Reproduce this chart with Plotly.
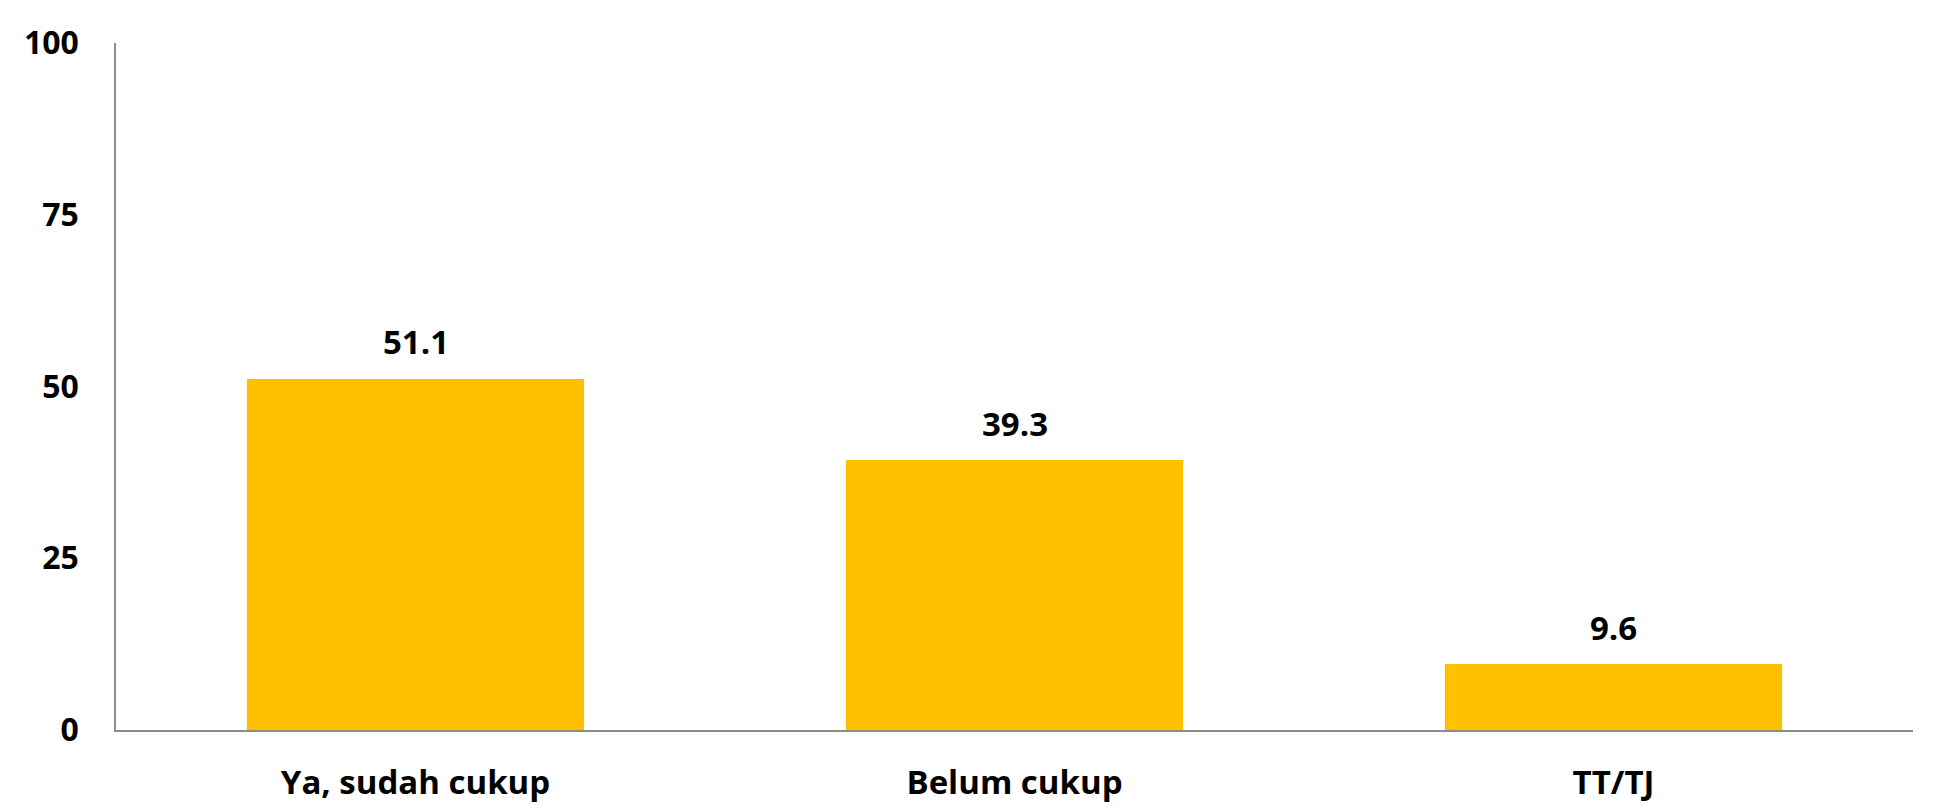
import plotly.graph_objects as go

categories = ["Ya, sudah cukup", "Belum cukup", "TT/TJ"]
values = [51.1, 39.3, 9.6]
value_labels = ["51.1", "39.3", "9.6"]
y_ticks = [0, 25, 50, 75, 100]

# page is offset by the default 8px body margin
W, H = 1945, 812
L, R, T, B = 108, 40, 35, 90

FONT = "Open Sans"

fig = go.Figure(go.Bar(
    x=categories, y=values,
    marker=dict(color="#FFC000", line=dict(width=0)),
))

for c, v, t in zip(categories, values, value_labels):
    fig.add_annotation(x=c, y=v, text=t, showarrow=False,
                       yanchor="middle", yshift=37,
                       font=dict(family=FONT, size=33, color="#000000", weight="bold"))

fig.update_layout(
    width=W, height=H,
    margin=dict(l=L, r=R, t=T, b=B, pad=0, autoexpand=False),
    paper_bgcolor="#ffffff",
    plot_bgcolor="#ffffff",
    bargap=0.437,
    showlegend=False,
    font=dict(family=FONT, color="#000000"),
)
fig.update_yaxes(
    range=[0, 100], tickvals=y_ticks, ticktext=[str(v) for v in y_ticks],
    showgrid=False, zeroline=False, automargin=False,
    showline=True, linecolor="#8c8c8c", linewidth=1.5,
    ticks="", ticklabelstandoff=29,
    tickfont=dict(family=FONT, size=32, color="#000000", weight="bold"),
)
fig.update_xaxes(
    showgrid=False, zeroline=False, automargin=False,
    showline=True, linecolor="#8c8c8c", linewidth=1.5,
    ticks="", ticklabelstandoff=23,
    tickfont=dict(family=FONT, size=33, color="#000000", weight="bold"),
)

fig.write_html("out.html")
